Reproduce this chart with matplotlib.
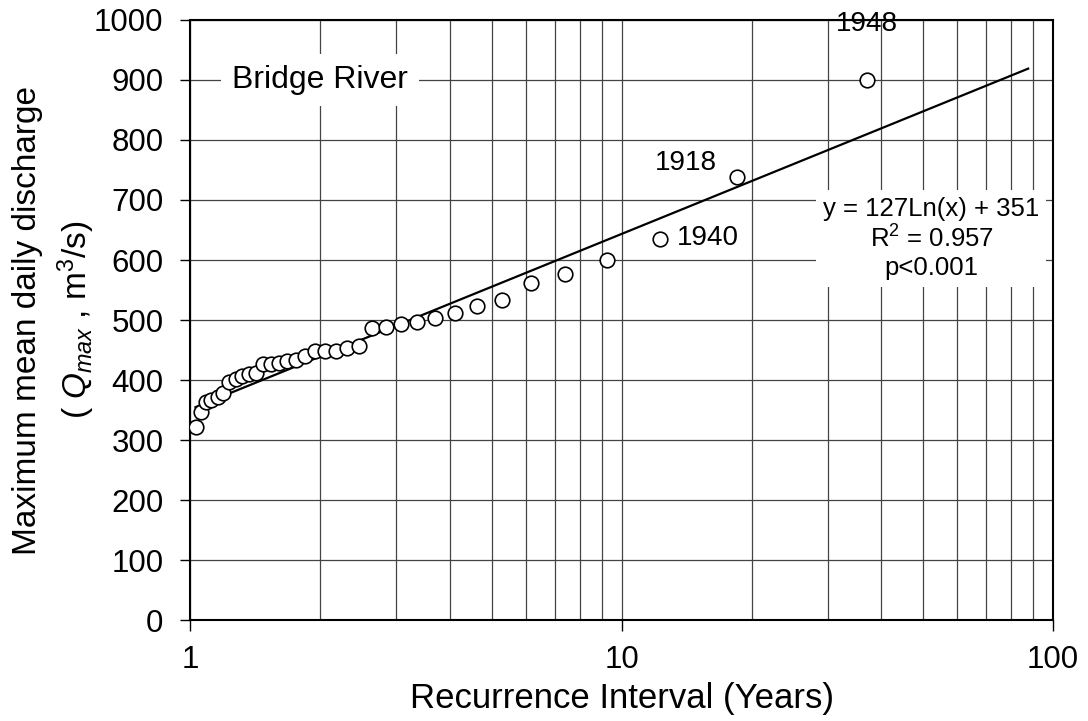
import matplotlib
matplotlib.use("Agg")
import matplotlib.pyplot as plt
import numpy as np
from matplotlib.ticker import FixedLocator, NullFormatter

plt.rcParams['font.family'] = ['Liberation Sans', 'DejaVu Sans']
plt.rcParams['mathtext.fontset'] = 'custom'
plt.rcParams['mathtext.rm'] = 'Liberation Sans'
plt.rcParams['mathtext.it'] = 'Liberation Sans:italic'

# recurrence interval (years) and max mean daily discharge (m3/s)
recurrence = [1.03, 1.06, 1.09, 1.12, 1.16, 1.19, 1.23, 1.28, 1.32, 1.37,
              1.42, 1.48, 1.54, 1.61, 1.68, 1.76, 1.85, 1.95, 2.06, 2.18,
              2.31, 2.47, 2.64, 2.85, 3.08, 3.36, 3.70, 4.11, 4.63, 5.29,
              6.17, 7.40, 9.25, 12.3, 18.5, 37.0]
qmax = [321, 347, 363, 367, 372, 378, 397, 402, 407, 410,
        412, 426, 427, 429, 431, 434, 440, 448, 448, 448,
        454, 457, 486, 488, 493, 497, 504, 511, 524, 533,
        562, 576, 600, 635, 738, 900]

# labelled years
years = ['1948', '1918', '1940']

# log fit shown on chart: y = a ln(x) + b
fit_a = 127
fit_b = 351
fit_xmax = 87.5

fig = plt.figure(figsize=(10.88, 7.21), dpi=100)
ax = fig.add_axes([0.1746, 0.140, 0.7934, 0.8323])

xf = np.geomspace(recurrence[0], fit_xmax, 200)
ax.plot(xf, fit_a * np.log(xf) + fit_b, color='black', lw=1.6, zorder=3)
ax.plot(recurrence, qmax, 'o', ms=10.5, mfc='white', mec='black', mew=1.2, zorder=4)

ax.set_xscale('log')
ax.set_xlim(1, 100)
ax.set_ylim(0, 1000)
ax.set_yticks(range(0, 1001, 100))
ax.xaxis.set_major_locator(FixedLocator([1, 10, 100]))
ax.set_xticklabels(['1', '10', '100'])
ax.xaxis.set_minor_locator(FixedLocator([2, 3, 4, 5, 6, 7, 8, 9, 20, 30, 40, 50, 60, 70, 80, 90]))
ax.xaxis.set_minor_formatter(NullFormatter())

ax.grid(True, which='both', axis='x', color='#444444', lw=0.9)
ax.grid(True, which='major', axis='y', color='#444444', lw=0.9)
ax.set_axisbelow(True)

ax.tick_params(axis='y', direction='out', length=7, width=1, pad=12, labelsize=22.5)
ax.tick_params(axis='x', which='major', direction='out', length=8, width=1, pad=10, labelsize=22.5)
ax.tick_params(axis='x', which='minor', length=0)
for s in ax.spines.values():
    s.set_linewidth(1.5)

ax.set_xlabel('Recurrence Interval (Years)', fontsize=25)
ax.xaxis.set_label_coords(0.5, -0.104)
ax.set_ylabel('Maximum mean daily discharge\n( $Q_{max}$ , m$^3$/s)', fontsize=24,
              linespacing=1.4)
ax.yaxis.set_label_coords(-0.108, 0.5)

ax.text(1.25, 900, 'Bridge River', fontsize=23, va='center', ha='left', zorder=5,
        bbox=dict(facecolor='white', edgecolor='none', pad=8))

ax.text(37.0, 993, years[0], fontsize=20, ha='center', va='center')
ax.text(14.1, 762, years[1], fontsize=20, ha='center', va='center')
ax.text(13.4, 637, years[2], fontsize=20, ha='left', va='center')

ax.text(52.2, 636, 'y = 127Ln(x) + 351\nR$^2$ = 0.957\np<0.001', fontsize=18.5,
        ha='center', va='center', linespacing=1.2, zorder=5,
        bbox=dict(facecolor='white', edgecolor='none', pad=5))

fig.savefig('out.png', dpi=100)
